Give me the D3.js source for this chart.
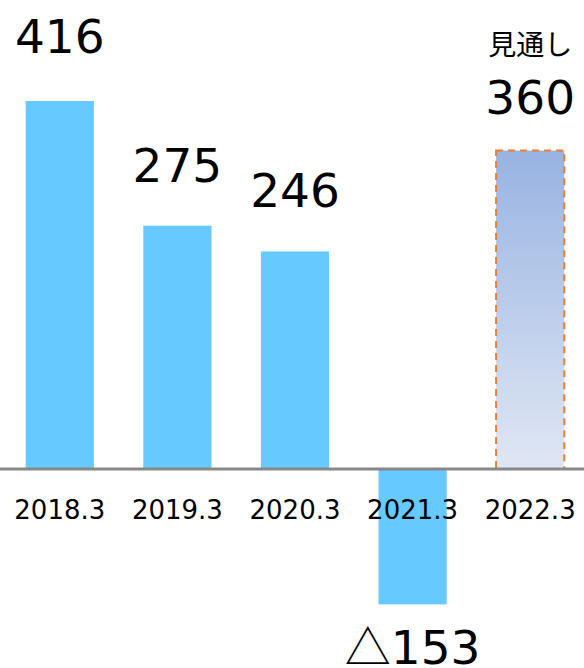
<!DOCTYPE html>
<meta charset="utf-8">
<style>
  html, body { margin: 0; padding: 0; background: #fff; }
  body { font-family: "DejaVu Sans", Verdana, sans-serif; }
  .axis-label { font-size: 26px; fill: #000; }
  .value-label { font-size: 47px; fill: #000; }
</style>
<svg></svg>
<script src="https://d3js.org/d3.v7.min.js"></script>
<script>
var years = ["2018.3", "2019.3", "2020.3", "2021.3", "2022.3"];
var values = [416, 275, 246, -153, 360];
var labels = ["416", "275", "246", "153", "360"];
var forecast = [false, false, false, false, true];
var forecastNote = "見通し";
var negMark = "△";

var width = 584, height = 668;

var svg = d3.select("svg")
    .attr("width", width)
    .attr("height", height);

var x = d3.scaleBand().domain(years).range([1, 589]).paddingInner(0.42).paddingOuter(0.21);
var y = d3.scaleLinear().domain([0, 416]).range([469, 101]);

var data = years.map(function(d, i) {
  return { year: d, value: values[i], label: labels[i], forecast: forecast[i] };
});

// gradient for the forecast bar
var grad = svg.append("defs").append("linearGradient")
    .attr("id", "fc").attr("x1", 0).attr("y1", 0).attr("x2", 0).attr("y2", 1);
grad.append("stop").attr("offset", "0%").attr("stop-color", "#98b3e2");
grad.append("stop").attr("offset", "100%").attr("stop-color", "#e0e7f4");

svg.selectAll(".bar")
    .data(data)
  .enter().append("rect")
    .attr("class", "bar")
    .attr("x", function(d) { return x(d.year); })
    .attr("y", function(d) { return y(Math.max(0, d.value)); })
    .attr("width", x.bandwidth())
    .attr("height", function(d) { return Math.abs(y(d.value) - y(0)); })
    .attr("fill", function(d) { return d.forecast ? "url(#fc)" : "#66c9ff"; })
    .attr("stroke", function(d) { return d.forecast ? "#ed7d31" : "none"; })
    .attr("stroke-width", 2)
    .attr("stroke-dasharray", function(d) { return d.forecast ? "7,5" : null; });

// zero line
svg.append("line")
    .attr("x1", 0).attr("x2", width)
    .attr("y1", y(0)).attr("y2", y(0))
    .attr("stroke", "#888")
    .attr("stroke-width", 3);

// category labels
svg.selectAll(".axis-label")
    .data(data)
  .enter().append("text")
    .attr("class", "axis-label")
    .attr("x", function(d) { return x(d.year) + x.bandwidth() / 2; })
    .attr("y", 519)
    .attr("text-anchor", "middle")
    .text(function(d) { return d.year; });

// value labels
var vl = svg.selectAll(".value-label")
    .data(data)
  .enter().append("text")
    .attr("class", "value-label")
    .attr("x", function(d) { return x(d.year) + x.bandwidth() / 2; })
    .attr("y", function(d) {
      if (d.value < 0) return y(d.value) + 60;
      if (d.forecast) return y(d.value) - 37;
      if (d.value > 400) return y(d.value) - 48;
      return y(d.value) - 44;
    })
    .attr("text-anchor", "middle");

vl.filter(function(d) { return d.value < 0; })
  .append("tspan")
    .style("font-family", "'Noto Sans CJK JP', sans-serif")
    .style("font-size", "46px")
    .text(negMark);

vl.append("tspan").text(function(d) { return d.label; });

// forecast note
var fc = data.filter(function(d) { return d.forecast; })[0];
svg.append("text")
    .attr("x", x(fc.year) + x.bandwidth() / 2)
    .attr("y", 55)
    .attr("text-anchor", "middle")
    .style("font-family", "'Noto Sans CJK JP', sans-serif")
    .style("font-size", "28px")
    .style("fill", "#000")
    .text(forecastNote);
</script>
